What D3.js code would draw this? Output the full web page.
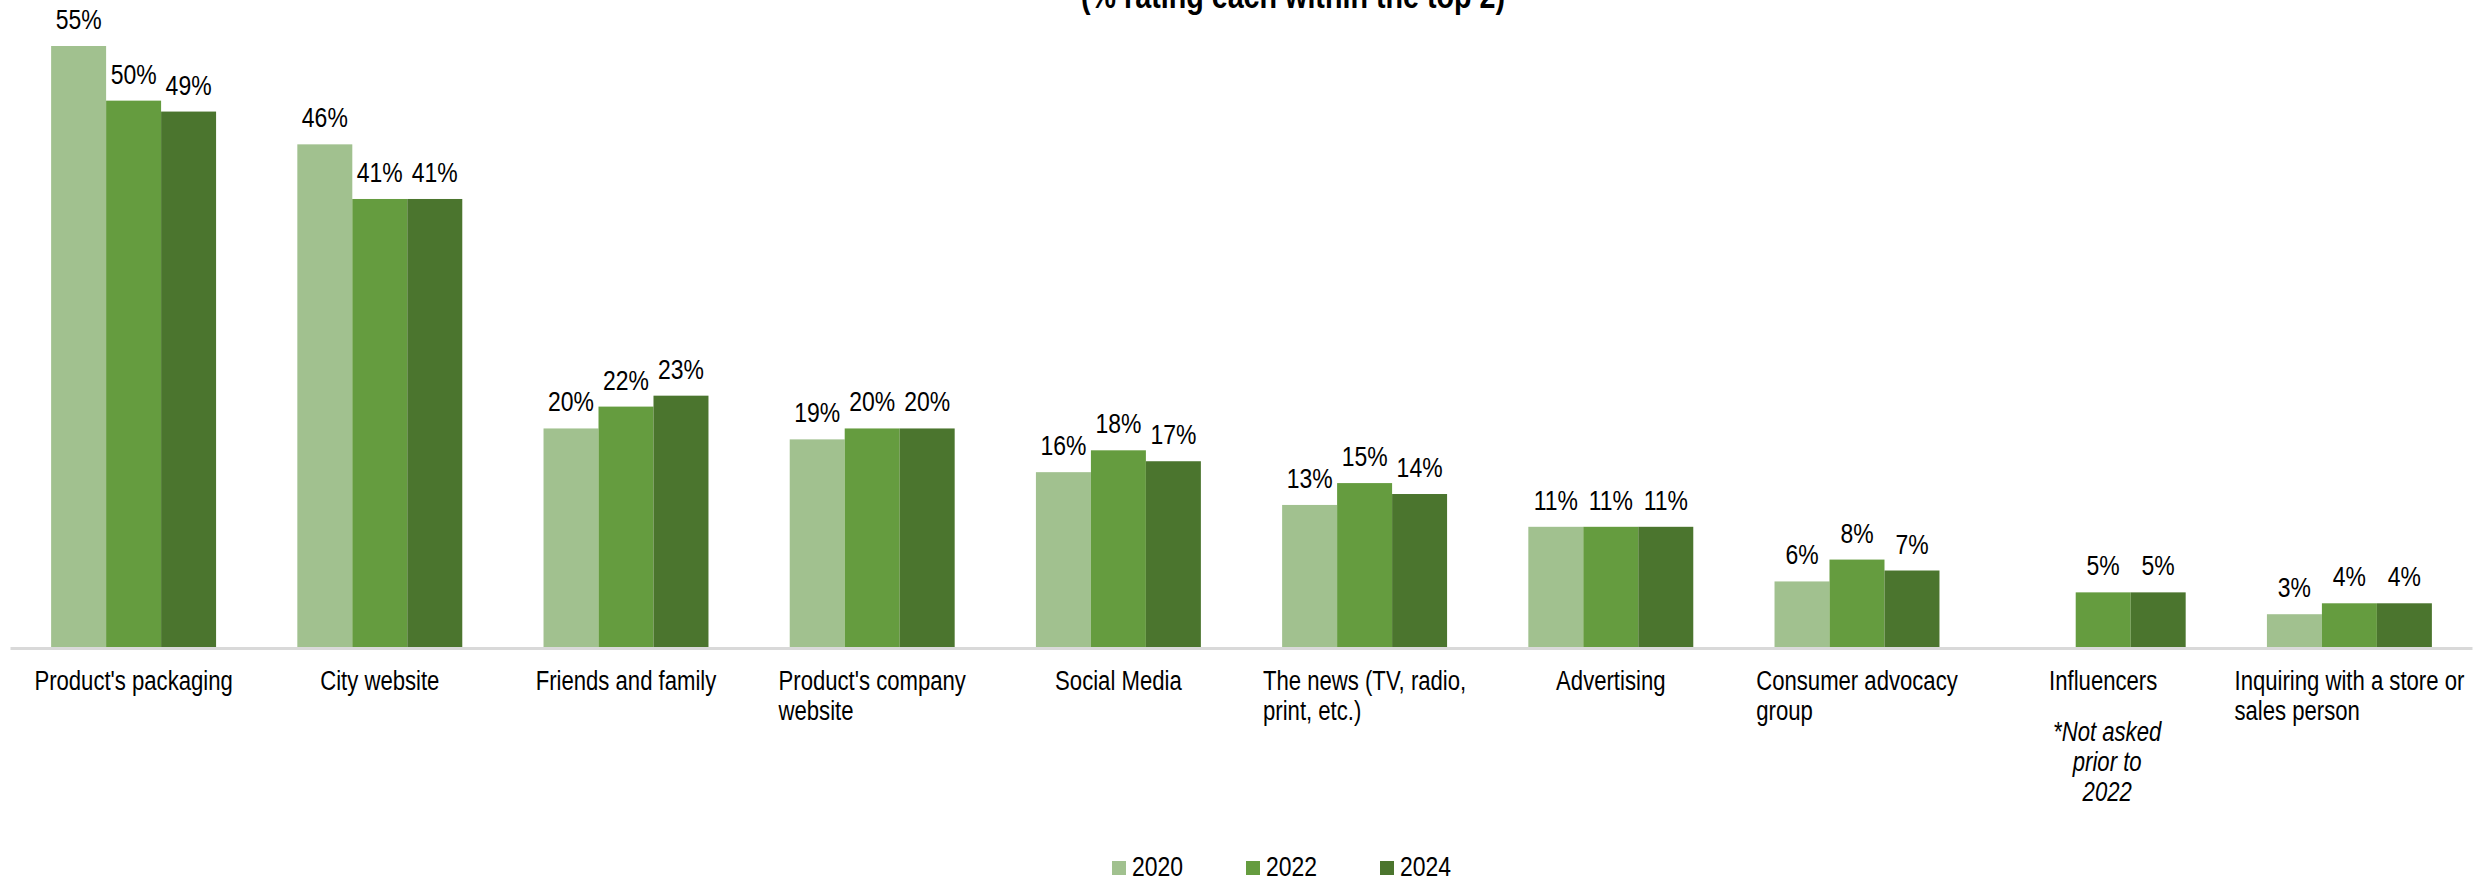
<!DOCTYPE html>
<html>
<head>
<meta charset="utf-8">
<script src="https://cdn.jsdelivr.net/npm/d3@7"></script>
<style>
  html, body { margin: 0; padding: 0; background: #fff; }
  svg { display: block; }
  text { font-family: "Liberation Sans", Arial, sans-serif; fill: #000; }
</style>
</head>
<body>
<svg id="chart" width="2478" height="880"></svg>
<script>
// Sources of information, share rating each within the top 2
const categories = [
  "Product's packaging", "City website", "Friends and family",
  "Product's company website", "Social Media", "The news (TV, radio, print, etc.)",
  "Advertising", "Consumer advocacy group", "Influencers",
  "Inquiring with a store or sales person"
];
const categoryLines = [
  ["Product's packaging"], ["City website"], ["Friends and family"],
  ["Product's company", "website"], ["Social Media"], ["The news (TV, radio,", "print, etc.)"],
  ["Advertising"], ["Consumer advocacy", "group"], ["Influencers"],
  ["Inquiring with a store or", "sales person"]
];
const years = ["2020", "2022", "2024"];
const values2020 = [55, 46, 20, 19, 16, 13, 11, 6, null, 3];
const values2022 = [50, 41, 22, 20, 18, 15, 11, 8, 5, 4];
const values2024 = [49, 41, 23, 20, 17, 14, 11, 7, 5, 4];
const titleText = "(% rating each within the top 2)";
const footnoteLines = ["*Not asked", "prior to", "2022"];
const footnoteCategory = "Influencers";

const seriesValues = [values2020, values2022, values2024];
const colors = ["#A1C18F", "#659C3F", "#4B752E"];

const svg = d3.select("#chart");

const x = d3.scaleBand()
  .domain(categories)
  .range([10.5, 2472.5])
  .paddingInner(0.33)
  .paddingOuter(0.165);

const xs = d3.scaleBand()
  .domain(years)
  .range([0, x.bandwidth()]);

const y = d3.scaleLinear()
  .domain([0, 55])
  .range([647, 46]);

// Draws one or more lines of condensed text anchored at (px, py);
// the regular face is squeezed horizontally by `squeeze`
function narrowText(parent, px, py, lines, opts) {
  const o = Object.assign({ size: 28, squeeze: 0.82, anchor: "middle", lineHeight: 30,
    weight: "normal", style: "normal", blockLeft: false }, opts || {});
  const g = parent.append("g").attr("transform", `translate(${px},${py}) scale(${o.squeeze},1)`);
  const t = g.append("text")
    .style("font-size", o.size + "px")
    .style("font-weight", o.weight)
    .style("font-style", o.style);
  lines.forEach((ln, k) => t.append("tspan").attr("x", 0).attr("y", k * o.lineHeight).text(ln));
  if (o.blockLeft && lines.length > 1) {
    const maxW = d3.max(t.selectAll("tspan").nodes(), n => n.getComputedTextLength());
    t.attr("text-anchor", "start").selectAll("tspan").attr("x", -maxW / 2);
  } else {
    t.attr("text-anchor", o.anchor);
  }
  return g;
}

// Title (upper lines lie outside the visible area)
narrowText(svg, 1293, 8, [titleText], { size: 35, weight: "bold" });

// Bars and value labels
const rows = [];
categories.forEach((c, i) => {
  years.forEach((yr, j) => {
    const v = seriesValues[j][i];
    if (v !== null && v !== undefined) rows.push({ c, yr, j, v });
  });
});

svg.append("g")
  .selectAll("rect")
  .data(rows)
  .join("rect")
  .attr("x", d => x(d.c) + xs(d.yr))
  .attr("y", d => y(d.v))
  .attr("width", xs.bandwidth())
  .attr("height", d => y(0) - y(d.v))
  .attr("fill", d => colors[d.j]);

const valueG = svg.append("g");
rows.forEach(d => {
  narrowText(valueG, x(d.c) + xs(d.yr) + xs.bandwidth() / 2, y(d.v) - 17, [d.v + "%"]);
});

// Category axis
const axis = svg.append("g").attr("transform", `translate(0,${y(0)})`)
  .call(d3.axisBottom(x).tickSize(0).tickFormat(""));
axis.select(".domain").attr("stroke", "#D9D9D9").attr("stroke-width", 3)
  .attr("d", `M${x.range()[0]},1.5H${x.range()[1]}`);

// Category labels: wrapped lines share a left edge, block centred on the group
const labelG = svg.append("g");
categories.forEach((c, i) => {
  narrowText(labelG, x(c) + x.bandwidth() / 2, 690, categoryLines[i],
    { squeeze: 0.79, blockLeft: true });
});

// Footnote under Influencers
narrowText(svg, x(footnoteCategory) + x.bandwidth() / 2 + 4, 741, footnoteLines,
  { squeeze: 0.79, style: "italic" });

// Legend
const legendX = d3.scalePoint().domain(years).range([1112, 1380]);
const leg = svg.append("g").selectAll("g").data(years).join("g")
  .attr("transform", d => `translate(${legendX(d)},861)`);
leg.append("rect").attr("width", 14).attr("height", 14)
  .attr("fill", (d, i) => colors[i]);
leg.each(function (d) {
  narrowText(d3.select(this), 20, 15, [d], { anchor: "start" });
});
</script>
</body>
</html>
